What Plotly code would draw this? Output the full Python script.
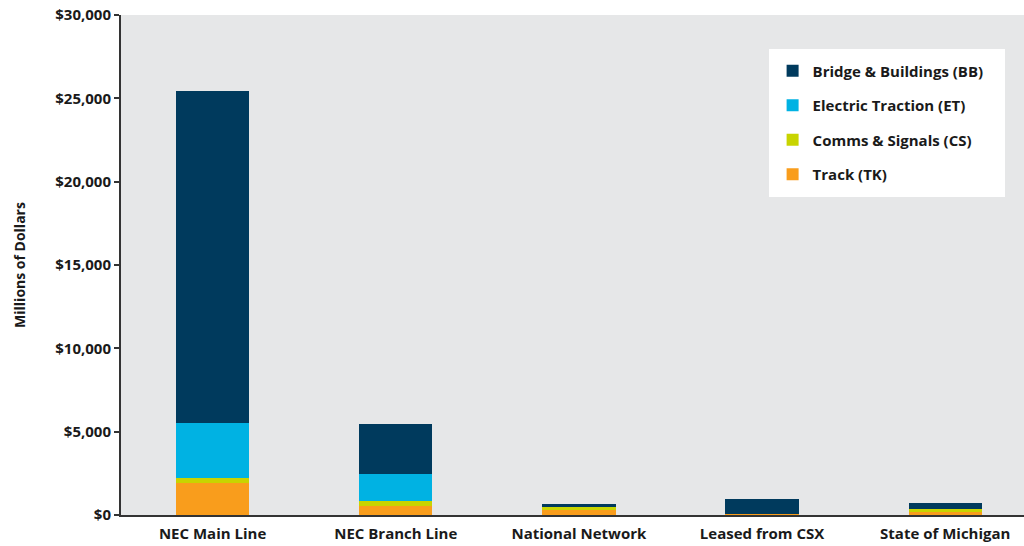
import plotly.graph_objects as go

categories = ["NEC Main Line", "NEC Branch Line", "National Network", "Leased from CSX", "State of Michigan"]
track = [1950, 540, 300, 60, 180]
comms = [280, 320, 200, 0, 180]
electric = [3310, 1610, 0, 0, 0]
bridge = [19880, 3010, 160, 900, 360]

series = [
    ("Track (TK)", track, "#f99d1c", 4),
    ("Comms & Signals (CS)", comms, "#c8d400", 3),
    ("Electric Traction (ET)", electric, "#00b2e3", 2),
    ("Bridge & Buildings (BB)", bridge, "#003a5d", 1),
]

fig = go.Figure()
for name, vals, color, rank in series:
    fig.add_trace(go.Bar(
        x=categories, y=vals, name=name, legendgroup=name, legendrank=rank,
        marker=dict(color=color, line=dict(width=0)),
        width=0.4,
    ))

font_family = "Open Sans, Noto Sans, sans-serif"
txt = "#1a1a1a"

# white legend panel
fig.add_shape(type="rect", xref="paper", yref="paper",
              x0=0.7176, x1=0.979, y0=0.636, y1=0.932,
              fillcolor="white", line=dict(width=0), layer="above")

fig.update_layout(
    barmode="stack",
    width=1024, height=546,
    margin=dict(l=121, r=0, t=15, b=31),
    paper_bgcolor="white",
    plot_bgcolor="#e6e7e8",
    font=dict(family=font_family, size=13, color=txt),
    showlegend=True,
    legend=dict(
        x=0.7216, y=0.921, xanchor="left", yanchor="top",
        bgcolor="rgba(0,0,0,0)",
        traceorder="grouped",
        tracegroupgap=12,
        font=dict(family=font_family, size=15, color=txt, weight="bold"),
        borderwidth=0,
        itemwidth=30,
    ),
)
fig.update_xaxes(
    range=[-0.5, 4.43],
    showline=True, linecolor="#333333", linewidth=2,
    ticks="", showgrid=False,
    tickfont=dict(family=font_family, size=15, color=txt, weight="bold"),
    ticklabelstandoff=4,
    fixedrange=True,
)
fig.update_yaxes(
    range=[0, 30000],
    tickvals=[0, 5000, 10000, 15000, 20000, 25000, 30000],
    ticktext=["$0", "$5,000", "$10,000", "$15,000", "$20,000", "$25,000", "$30,000"],
    showline=True, linecolor="#333333", linewidth=2,
    ticks="outside", ticklen=5, tickcolor="#333333", tickwidth=1.5,
    showgrid=False, zeroline=False,
    tickfont=dict(family=font_family, size=15, color=txt, weight="bold"),
    title=dict(text="Millions of Dollars", standoff=26,
               font=dict(family=font_family, size=14, color=txt, weight="bold")),
    fixedrange=True,
)

fig.write_html("out.html")
